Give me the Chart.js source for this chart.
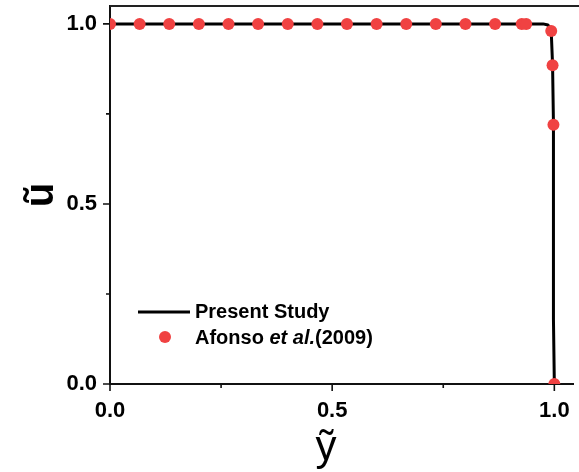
<!DOCTYPE html>
<html>
<head>
<meta charset="utf-8">
<script src="https://cdn.jsdelivr.net/npm/chart.js@4.4.1/dist/chart.umd.min.js"></script>
<style>
  html, body { margin: 0; padding: 0; background: #fff; overflow: hidden; }
  canvas { display: block; }
</style>
</head>
<body>
<canvas id="chart" width="579" height="472"></canvas>
<script>
// Present Study curve
const studyX = [0, 0.975, 0.985, 0.991, 0.993, 0.996, 0.998, 0.998, 1.0];
const studyY = [1, 1, 0.997, 0.99, 0.98, 0.887, 0.724, 0.18, 0];

// Afonso et al. (2009) points
const afonsoX = [0, 0.0667, 0.1333, 0.2, 0.2667, 0.3333, 0.4, 0.4667, 0.5333, 0.6,
                 0.6667, 0.7333, 0.8, 0.8667, 0.9267, 0.9367, 0.993, 0.996, 0.998, 1.0];
const afonsoY = [1, 1, 1, 1, 1, 1, 1, 1, 1, 1,
                 1, 1, 1, 1, 1, 1, 0.98, 0.885, 0.72, 0];

const xMajor = [0, 0.5, 1.0];
const xMinor = [0.25, 0.75];
const yMajor = [0, 0.5, 1.0];
const yMinor = [0.25, 0.75];

const xTitle = 'ỹ';
const yTitle = 'ũ';
const legendLabels = ['Present Study', 'Afonso et al.(2009)'];

const RED = 'rgb(240, 66, 66)';
const FONT = '"Liberation Sans", Arial, sans-serif';

function toPoints(xs, ys) {
    return xs.map((x, i) => ({ x: x, y: ys[i] }));
}

// ticks, top frame line, axis titles and legend
const decorations = {
    id: 'decorations',
    afterDraw(chart) {
        const ctx = chart.ctx;
        const area = chart.chartArea;
        const xs = chart.scales.x;
        const ys = chart.scales.y;
        ctx.save();
        ctx.strokeStyle = '#222';
        ctx.lineWidth = 2;
        ctx.beginPath();
        ctx.moveTo(area.left, area.top);
        ctx.lineTo(chart.width, area.top);
        ctx.stroke();

        ctx.strokeStyle = '#111';
        ctx.lineWidth = 1.6;
        ctx.beginPath();
        yMajor.forEach(v => {
            const p = ys.getPixelForValue(v);
            ctx.moveTo(area.left - 7, p); ctx.lineTo(area.left, p);
        });
        yMinor.forEach(v => {
            const p = ys.getPixelForValue(v);
            ctx.moveTo(area.left - 4, p); ctx.lineTo(area.left, p);
        });
        xMajor.forEach(v => {
            const p = xs.getPixelForValue(v);
            ctx.moveTo(p, area.bottom); ctx.lineTo(p, area.bottom + 7);
        });
        xMinor.forEach(v => {
            const p = xs.getPixelForValue(v);
            ctx.moveTo(p, area.bottom); ctx.lineTo(p, area.bottom + 4);
        });
        ctx.stroke();

        // axis titles
        ctx.fillStyle = '#000';
        ctx.font = '42px ' + FONT;
        ctx.textAlign = 'center';
        ctx.textBaseline = 'alphabetic';
        ctx.fillText(xTitle, 326, 460);
        ctx.save();
        ctx.translate(53, 195);
        ctx.rotate(-Math.PI / 2);
        ctx.font = 'bold 40px ' + FONT;
        ctx.fillText(yTitle, 0, 0);
        ctx.restore();

        // legend
        const ds = chart.data.datasets;
        ctx.strokeStyle = ds[1].borderColor;
        ctx.lineWidth = 3;
        ctx.beginPath();
        ctx.moveTo(138, 312);
        ctx.lineTo(190, 312);
        ctx.stroke();
        ctx.fillStyle = ds[0].backgroundColor;
        ctx.beginPath();
        ctx.arc(165, 337, 6, 0, Math.PI * 2);
        ctx.fill();

        ctx.fillStyle = '#000';
        ctx.textAlign = 'left';
        ctx.font = 'bold 20px ' + FONT;
        ctx.fillText(legendLabels[0], 195, 318);
        let x = 195;
        const parts = [['Afonso ', false], ['et al.', true], ['(2009)', false]];
        parts.forEach(p => {
            ctx.font = (p[1] ? 'italic ' : '') + 'bold 20px ' + FONT;
            ctx.fillText(p[0], x, 344);
            x += ctx.measureText(p[0]).width;
        });
        ctx.restore();
    }
};

function fixY(scale) {
    scale.width = 110;
    scale.paddingTop = 0;
    scale.paddingBottom = 0;
}

function fixX(scale) {
    scale.height = 88;
    scale.paddingLeft = 0;
    scale.paddingRight = 0;
}

new Chart(document.getElementById('chart'), {
    type: 'scatter',
    data: {
        datasets: [{
            label: legendLabels[1],
            data: toPoints(afonsoX, afonsoY),
            showLine: false,
            pointRadius: 6,
            pointHoverRadius: 6,
            pointBorderWidth: 0,
            backgroundColor: RED,
            borderColor: RED,
            clip: 0,
            order: 1
        }, {
            label: legendLabels[0],
            data: toPoints(studyX, studyY),
            showLine: true,
            pointRadius: 0,
            borderColor: '#000',
            borderWidth: 3,
            tension: 0,
            clip: 0,
            order: 2
        }]
    },
    options: {
        responsive: false,
        animation: false,
        layout: { padding: { top: 4, right: 0, left: 0, bottom: 0 } },
        plugins: {
            legend: { display: false },
            tooltip: { enabled: false }
        },
        scales: {
            x: {
                type: 'linear',
                min: 0,
                max: 1.042,
                afterFit: fixX,
                grid: { display: false },
                border: { display: true, color: '#111', width: 2 },
                ticks: {
                    stepSize: 0.5,
                    includeBounds: false,
                    padding: 6,
                    color: '#000',
                    font: { family: FONT, size: 22, weight: 'bold' },
                    maxRotation: 0,
                    callback: v => v.toFixed(1)
                }
            },
            y: {
                type: 'linear',
                min: 0,
                max: 1.0497,
                afterFit: fixY,
                grid: { display: false },
                border: { display: true, color: '#111', width: 2 },
                ticks: {
                    stepSize: 0.5,
                    includeBounds: false,
                    padding: 5,
                    color: '#000',
                    font: { family: FONT, size: 22, weight: 'bold' },
                    callback: v => v.toFixed(1)
                }
            }
        }
    },
    plugins: [decorations]
});
</script>
</body>
</html>
